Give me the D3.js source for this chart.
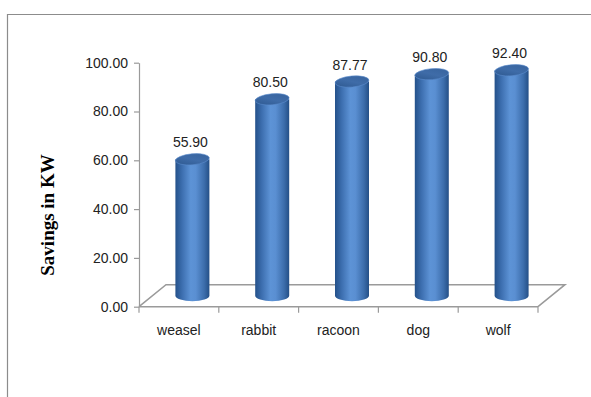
<!DOCTYPE html>
<html><head><meta charset="utf-8">
<script src="https://cdn.jsdelivr.net/npm/d3@7"></script>
<style>html,body{margin:0;padding:0;background:#fff;}svg{display:block;}</style>
</head><body>
<script>
const categories = ["weasel","rabbit","racoon","dog","wolf"];
const values = [55.90, 80.50, 87.77, 90.80, 92.40];
const yTicks = [0,20,40,60,80,100];
const yTitle = "Savings in KW";

const W = 591, H = 397;
const svg = d3.select("body").append("svg").attr("width", W).attr("height", H);
const defs = svg.append("defs");

// chart border
svg.append("path").attr("d", "M7.5,397 L7.5,14.5 L591,14.5")
  .attr("fill","none").attr("stroke","#8c8c8c").attr("stroke-width",1.2);

const x = d3.scaleBand().domain(categories).range([139, 538]).padding(0);
const y = d3.scaleLinear().domain([0,100]).range([306.7, 62.7]);
const DX = 27, DY = -22; // depth of floor

// floor
const x0 = x.range()[0], x1 = x.range()[1], y0 = y(0);
svg.append("path")
  .attr("d", `M${x0},${y0} L${x0+DX},${y0+DY} L${x1+DX},${y0+DY} L${x1},${y0}`)
  .attr("fill","none").attr("stroke","#9a9a9a").attr("stroke-width",1.5);
svg.append("line").attr("x1",x0).attr("x2",x1).attr("y1",y0).attr("y2",y0)
  .attr("stroke","#9a9a9a").attr("stroke-width",1.5);
// category ticks
const bounds = categories.map(c => x(c)).concat([x1]);
svg.selectAll(".ct").data(bounds).enter().append("line")
  .attr("x1", d=>d).attr("x2", d=>d).attr("y1", y0).attr("y2", y0+6)
  .attr("stroke","#9a9a9a").attr("stroke-width",1.2);

// y axis
const yAxis = d3.axisLeft(y).tickValues(yTicks).tickFormat(d3.format(".2f")).tickSizeOuter(0).tickSizeInner(5).tickPadding(6);
const ga = svg.append("g").attr("transform", `translate(${x0},0)`).call(yAxis);
ga.select(".domain").attr("stroke","#9a9a9a").attr("stroke-width",1.2);
ga.selectAll(".tick line").attr("stroke","#9a9a9a").attr("stroke-width",1.2);
ga.selectAll(".tick text").attr("font-family","'Liberation Sans', Arial, sans-serif")
  .attr("font-size","14px").attr("fill","#222");

// category labels
svg.selectAll(".cl").data(categories).enter().append("text")
  .attr("x", d => x(d) + x.bandwidth()/2).attr("y", 335)
  .attr("text-anchor","middle").attr("font-family","'Liberation Sans', Arial, sans-serif")
  .attr("font-size","14px").attr("fill","#222").text(d=>d);

// y title
svg.append("text").attr("transform","translate(54,215) rotate(-90)")
  .attr("text-anchor","middle").attr("font-family","'Liberation Serif', 'Times New Roman', serif")
  .attr("font-weight","bold").attr("font-size","19px").attr("fill","#000").text(yTitle);

// cylinder gradients
const bodyG = defs.append("linearGradient").attr("id","body").attr("x1","0").attr("x2","1").attr("y1","0").attr("y2","0");
[[0,"#24518a"],[0.2,"#3d6fb0"],[0.45,"#5d93d6"],[0.6,"#5a8fd2"],[0.85,"#3c6dab"],[1,"#244f86"]]
  .forEach(s => bodyG.append("stop").attr("offset", s[0]).attr("stop-color", s[1]));
const topG = defs.append("linearGradient").attr("id","top").attr("x1","0").attr("x2","1").attr("y1","1").attr("y2","0");
[[0,"#2c578e"],[0.5,"#3f6ca8"],[1,"#36629c"]]
  .forEach(s => topG.append("stop").attr("offset", s[0]).attr("stop-color", s[1]));

const bw = 34, rx = bw/2, ry = 5.5;
const data = categories.map((c,i) => ({c, v: values[i]}));
const g = svg.selectAll(".cyl").data(data).enter().append("g");
g.each(function(d){
  const cx = x(d.c) + x.bandwidth()/2 + DX/2;
  const base = y(0) + DY/2;
  const top = base - (y(0) - y(d.v));
  const el = d3.select(this);
  el.append("path")
    .attr("d", `M${cx-rx},${top} L${cx-rx},${base} A${rx},${ry} 0 0 0 ${cx+rx},${base} L${cx+rx},${top} Z`)
    .attr("fill","url(#body)");
  el.append("ellipse").attr("cx",cx).attr("cy",top).attr("rx",rx).attr("ry",ry)
    .attr("transform",`rotate(-5,${cx},${top})`)
    .attr("fill","url(#top)").attr("stroke","#5a8acb").attr("stroke-width",0.6);
  el.append("text").attr("x",cx-2).attr("y",top-12)
    .attr("text-anchor","middle").attr("font-family","'Liberation Sans', Arial, sans-serif")
    .attr("font-size","14px").attr("fill","#222").text(d3.format(".2f")(d.v));
});
</script>
</body></html>
